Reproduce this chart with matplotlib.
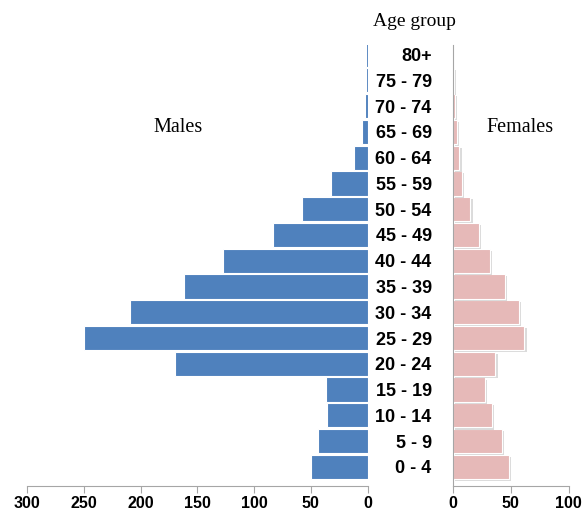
import matplotlib
matplotlib.use("Agg")
import matplotlib.pyplot as plt
import matplotlib.patheffects as pe
import numpy as np

edades = ["0 - 4", "5 - 9", "10 - 14", "15 - 19", "20 - 24", "25 - 29", "30 - 34",
          "35 - 39", "40 - 44", "45 - 49", "50 - 54", "55 - 59", "60 - 64",
          "65 - 69", "70 - 74", "75 - 79", "80+"]
hombres = [50, 44, 36, 37, 170, 250, 209, 162, 127, 83, 58, 32, 12, 5, 2, 1, 1]
mujeres = [49, 42.5, 34, 28, 37, 62, 57.5, 45, 32, 23, 15.5, 8.5, 6, 4, 2, 1, 0.5]
ticks_h = [0, 50, 100, 150, 200, 250, 300]
ticks_m = [0, 50, 100]

AZUL = "#4F81BD"
ROSA = "#E6B9B8"
GRIS = "#A6A6A6"

W, H = 586, 514
fig = plt.figure(figsize=(W / 100, H / 100), dpi=100)

def caja(x0, x1, y_top, y_bot):
    return [x0 / W, 1 - y_bot / H, (x1 - x0) / W, (y_bot - y_top) / H]

ax_h = fig.add_axes(caja(27, 367.5, 45, 486))
ax_m = fig.add_axes(caja(452.5, 568.5, 45, 486))

y = np.arange(len(edades))
ylim = (-0.74, 16.37)

ax_h.barh(y, hombres, height=0.94, color=AZUL, edgecolor="white", linewidth=0.8)
ax_h.set_xlim(300, 0)
ax_h.set_ylim(*ylim)
ax_h.set_yticks([])

barras = ax_m.barh(y, mujeres, height=0.94, color=ROSA, edgecolor="white", linewidth=0.8)
for b in barras:
    b.set_path_effects([pe.SimplePatchShadow(offset=(1.5, -1.5), shadow_rgbFace="#999999", alpha=0.35),
                        pe.Normal()])
ax_m.set_xlim(0, 100)
ax_m.set_ylim(*ylim)
ax_m.set_yticks(y)
ax_m.set_yticklabels(edades, fontsize=13, fontweight="bold", family="Liberation Sans")
ax_m.tick_params(axis="y", length=0, pad=15)

for ax, t in [(ax_h, ticks_h), (ax_m, ticks_m)]:
    ax.set_xticks(t)
    ax.set_xticklabels([str(v) for v in t], fontsize=11.5, fontweight="bold", family="Liberation Sans")
    ax.tick_params(axis="x", direction="out", length=5, color=GRIS, pad=2.5)
    for s in ["top", "right", "left"]:
        ax.spines[s].set_visible(False)
    ax.spines["bottom"].set_color(GRIS)

ax_m.spines["left"].set_visible(True)
ax_m.spines["left"].set_color(GRIS)

fig.text(414 / W, 1 - 21 / H, "Age group", ha="center", va="center", fontsize=14,
         family="Liberation Serif")
fig.text(178 / W, 1 - 127 / H, "Males", ha="center", va="center", fontsize=14.5,
         family="Liberation Serif")
fig.text(520 / W, 1 - 127 / H, "Females", ha="center", va="center", fontsize=14.5,
         family="Liberation Serif")

fig.savefig("out.png", dpi=100)
